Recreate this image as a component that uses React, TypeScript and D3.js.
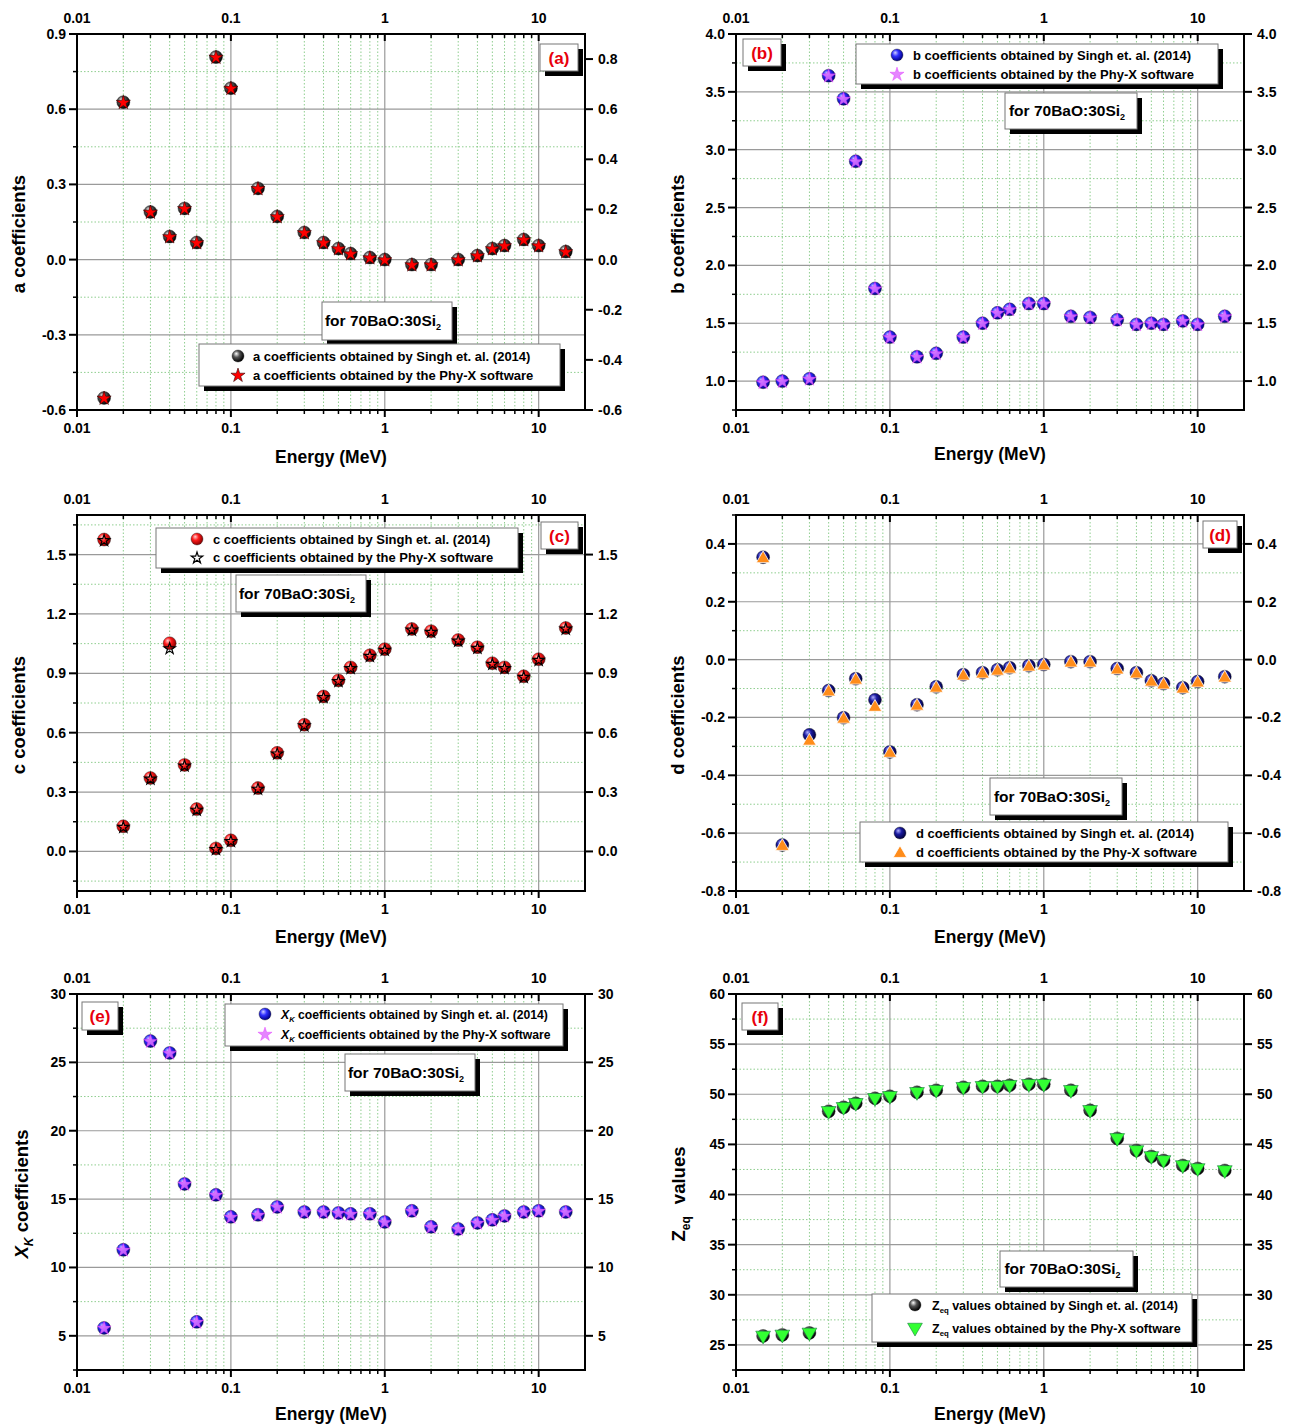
import React from 'react';
import * as d3 from 'd3';

const energies = [0.015, 0.02, 0.03, 0.04, 0.05, 0.06, 0.08, 0.1, 0.15, 0.2, 0.3, 0.4, 0.5, 0.6, 0.8, 1, 1.5, 2, 3, 4, 5, 6, 8, 10, 15];

const aSingh = [-0.552, 0.628, 0.19, 0.092, 0.204, 0.068, 0.808, 0.684, 0.284, 0.172, 0.108, 0.068, 0.044, 0.024, 0.008, 0.0, -0.02, -0.02, 0.0, 0.016, 0.044, 0.056, 0.08, 0.056, 0.032];
const aPhyX = [-0.552, 0.628, 0.19, 0.092, 0.204, 0.068, 0.808, 0.684, 0.284, 0.172, 0.108, 0.068, 0.044, 0.024, 0.008, 0.0, -0.02, -0.02, 0.0, 0.016, 0.044, 0.056, 0.08, 0.056, 0.032];

const bSingh = [0.99, 1.0, 1.02, 3.64, 3.44, 2.9, 1.8, 1.38, 1.21, 1.24, 1.38, 1.5, 1.59, 1.62, 1.67, 1.67, 1.56, 1.55, 1.53, 1.49, 1.5, 1.49, 1.52, 1.49, 1.56];
const bPhyX = [0.99, 1.0, 1.02, 3.64, 3.44, 2.9, 1.8, 1.38, 1.21, 1.24, 1.38, 1.5, 1.59, 1.62, 1.67, 1.67, 1.56, 1.55, 1.53, 1.49, 1.5, 1.49, 1.52, 1.49, 1.56];

const cSingh = [1.576, 0.127, 0.371, 1.052, 0.437, 0.214, 0.015, 0.056, 0.32, 0.498, 0.64, 0.783, 0.864, 0.93, 0.991, 1.022, 1.124, 1.113, 1.068, 1.032, 0.951, 0.93, 0.885, 0.971, 1.129];
const cPhyX = [1.576, 0.127, 0.371, 1.03, 0.437, 0.214, 0.015, 0.056, 0.32, 0.498, 0.64, 0.783, 0.864, 0.93, 0.991, 1.022, 1.124, 1.113, 1.068, 1.032, 0.951, 0.93, 0.885, 0.971, 1.129];

const dSingh = [0.354, -0.641, -0.26, -0.107, -0.201, -0.066, -0.139, -0.319, -0.156, -0.094, -0.052, -0.045, -0.035, -0.028, -0.021, -0.017, -0.007, -0.007, -0.031, -0.045, -0.073, -0.083, -0.097, -0.076, -0.059];
const dPhyX = [0.354, -0.641, -0.277, -0.107, -0.201, -0.066, -0.16, -0.319, -0.156, -0.094, -0.052, -0.045, -0.035, -0.028, -0.021, -0.017, -0.007, -0.007, -0.031, -0.045, -0.073, -0.083, -0.097, -0.076, -0.059];

const xkSingh = [5.58, 11.29, 26.56, 25.69, 16.11, 6.02, 15.31, 13.7, 13.85, 14.43, 14.06, 14.06, 13.99, 13.92, 13.92, 13.33, 14.14, 12.97, 12.82, 13.26, 13.48, 13.77, 14.06, 14.14, 14.06];
const xkPhyX = [5.58, 11.29, 26.56, 25.69, 16.11, 6.02, 15.31, 13.7, 13.85, 14.43, 14.06, 14.06, 13.99, 13.92, 13.92, 13.33, 14.14, 12.97, 12.82, 13.26, 13.48, 13.77, 14.06, 14.14, 14.06];

const zeqSingh = [25.9, 26.0, 26.2, 48.3, 48.7, 49.1, 49.6, 49.8, 50.2, 50.4, 50.7, 50.8, 50.8, 50.9, 51.0, 51.0, 50.4, 48.4, 45.6, 44.4, 43.8, 43.4, 42.9, 42.6, 42.4];
const zeqPhyX = [25.9, 26.0, 26.2, 48.3, 48.7, 49.1, 49.6, 49.8, 50.2, 50.4, 50.7, 50.8, 50.8, 50.9, 51.0, 51.0, 50.4, 48.4, 45.6, 44.4, 43.8, 43.4, 42.9, 42.6, 42.4];

const xTicks = [0.01, 0.1, 1, 10];
const xDomain = [0.01, 20];

const aLeftTicks = [-0.6, -0.3, 0, 0.3, 0.6, 0.9];
const aRightTicks = [-0.6, -0.4, -0.2, 0, 0.2, 0.4, 0.6, 0.8];
const bTicks = [1.0, 1.5, 2.0, 2.5, 3.0, 3.5, 4.0];
const cTicks = [0, 0.3, 0.6, 0.9, 1.2, 1.5];
const dTicks = [-0.8, -0.6, -0.4, -0.2, 0, 0.2, 0.4];
const eTicks = [5, 10, 15, 20, 25, 30];
const fTicks = [25, 30, 35, 40, 45, 50, 55, 60];

const FONT = "Arial, 'Liberation Sans', sans-serif";
const PW = 508;
const PH = 376;
const LEG = 13;

const sphereColors = { black: ['#ffffff', '#555555', '#000000'], blue: ['#d0d0ff', '#3030ff', '#00008a'], red: ['#ffd0d0', '#ff1a1a', '#8a0000'], navy: ['#b0b0ff', '#1a1aa0', '#000040'] };

function Sphere({ x, y, color, r = 6.5 }) {
  return <circle cx={x} cy={y} r={r} fill={`url(#sph-${color})`} stroke="#222" strokeWidth={0.4} />;
}

const starPath = d3.symbol(d3.symbolStar, 62)();
const starSmall = d3.symbol(d3.symbolStar, 40)();
const triPath = d3.symbol(d3.symbolTriangle, 80)();
const triBig = d3.symbol(d3.symbolTriangle, 95)();

function Over({ x, y, kind }) {
  if (kind === 'redStar') return <path d={starPath} transform={`translate(${x},${y + 0.5})`} fill="#ff0000" stroke="#300" strokeWidth={0.6} />;
  if (kind === 'magStar') return <path d={starPath} transform={`translate(${x},${y + 0.5})`} fill="#e070ff" fillOpacity={0.85} stroke="#d0f" strokeWidth={0.3} />;
  if (kind === 'blackStar') return <path d={starSmall} transform={`translate(${x},${y + 1})`} fill="none" stroke="#000" strokeWidth={1.2} />;
  if (kind === 'orangeTri') return <path d={triPath} transform={`translate(${x},${y + 1.5})`} fill="#ff8c1a" stroke="#fff" strokeWidth={0.8} />;
  if (kind === 'greenTri') return <path d={triBig} transform={`translate(${x},${y - 0.5}) rotate(180)`} fill="#33ff33" stroke="#063" strokeWidth={0.5} />;
  return null;
}

function ShadowBox({ x, y, w, h, off = 5 }) {
  return (
    <g>
      <rect x={x + off} y={y + off} width={w} height={h} fill="#000" />
      <rect x={x} y={y} width={w} height={h} fill="#fff" stroke="#777" strokeWidth={1} />
    </g>
  );
}

function SubText({ x, y, base, sub, rest, size, italic = false }) {
  return (
    <text x={x} y={y} fontSize={size} fontWeight="bold" fontFamily={FONT} fill="#000">
      <tspan fontStyle={italic ? 'italic' : 'normal'}>{base}</tspan>
      <tspan fontSize={size * 0.62} dy={size * 0.3} fontStyle={italic ? 'italic' : 'normal'}>{sub}</tspan>
      <tspan dy={-size * 0.3}>{rest}</tspan>
    </text>
  );
}

function Panel({ cfg }) {
  const { x0, y0, yDomain, leftTicks, rightTicks, minorStep, fmt, singh, phyx, sphere, over, letterBox, forBox, legend, yTitle, titleDy } = cfg;
  const x = d3.scaleLog().domain(xDomain).range([x0, x0 + PW]);
  const y = d3.scaleLinear().domain(yDomain).range([y0 + PH, y0]);
  const minorX = [];
  [0.01, 0.1, 1, 10].forEach((d) => { for (let k = 2; k <= 9; k++) { const v = d * k; if (v < 20) minorX.push(v); } });
  const minorY = [];
  const n0 = Math.ceil(yDomain[0] / minorStep - 1e-6);
  const n1 = Math.floor(yDomain[1] / minorStep + 1e-6);
  for (let n = n0; n <= n1; n++) {
    const v = n * minorStep;
    if (!leftTicks.some((t) => Math.abs(t - v) < 1e-6)) minorY.push(v);
  }
  const xr = x0 + PW;
  const yb = y0 + PH;
  const tickFont = { fontSize: 14, fontWeight: 'bold', fontFamily: FONT, fill: '#000' };
  return (
    <g>
      {minorX.map((v, i) => <line key={'mx' + i} x1={x(v)} x2={x(v)} y1={y0} y2={yb} stroke="#8fce8f" strokeWidth={1} strokeDasharray="1.5,2" />)}
      {minorY.map((v, i) => <line key={'my' + i} x1={x0} x2={xr} y1={y(v)} y2={y(v)} stroke="#8fce8f" strokeWidth={1} strokeDasharray="1.5,2" />)}
      {xTicks.filter((v) => v > 0.01).map((v, i) => <line key={'gx' + i} x1={x(v)} x2={x(v)} y1={y0} y2={yb} stroke="#9a9a9a" strokeWidth={1.2} />)}
      {leftTicks.map((v, i) => <line key={'gy' + i} x1={x0} x2={xr} y1={y(v)} y2={y(v)} stroke="#9a9a9a" strokeWidth={1.2} />)}
      <rect x={x0} y={y0} width={PW} height={PH} fill="none" stroke="#000" strokeWidth={2} />
      {xTicks.map((v, i) => (
        <g key={'xt' + i}>
          <line x1={x(v)} x2={x(v)} y1={yb} y2={yb + 7} stroke="#000" strokeWidth={2} />
          <line x1={x(v)} x2={x(v)} y1={y0} y2={y0 + 7} stroke="#000" strokeWidth={2} />
          <text x={x(v)} y={yb + 23} textAnchor="middle" {...tickFont}>{String(v)}</text>
          <text x={x(v)} y={y0 - 11} textAnchor="middle" {...tickFont}>{String(v)}</text>
        </g>
      ))}
      {minorX.map((v, i) => (
        <g key={'xm' + i}>
          <line x1={x(v)} x2={x(v)} y1={yb} y2={yb + 4} stroke="#000" strokeWidth={1.5} />
          <line x1={x(v)} x2={x(v)} y1={y0} y2={y0 + 4} stroke="#000" strokeWidth={1.5} />
        </g>
      ))}
      {leftTicks.map((v, i) => (
        <g key={'yl' + i}>
          <line x1={x0 - 8} x2={x0} y1={y(v)} y2={y(v)} stroke="#000" strokeWidth={2} />
          <text x={x0 - 11} y={y(v) + 5} textAnchor="end" {...tickFont}>{fmt(v)}</text>
        </g>
      ))}
      {minorY.map((v, i) => <line key={'ylm' + i} x1={x0 - 4} x2={x0} y1={y(v)} y2={y(v)} stroke="#000" strokeWidth={1.5} />)}
      {rightTicks.map((v, i) => (
        <g key={'yr' + i}>
          <line x1={xr} x2={xr + 8} y1={y(v)} y2={y(v)} stroke="#000" strokeWidth={2} />
          <text x={xr + 13} y={y(v) + 5} textAnchor="start" {...tickFont}>{fmt(v)}</text>
        </g>
      ))}
      <text x={x0 + PW / 2} y={yb + titleDy} textAnchor="middle" fontSize={17.5} fontWeight="bold" fontFamily={FONT}>Energy (MeV)</text>
      <g transform={`translate(${x0 - 52},${y0 + PH / 2 + 12}) rotate(-90)`}>{yTitle}</g>
      <ShadowBox {...forBox} />
      <text x={forBox.x + forBox.w / 2 - 4} y={forBox.y + forBox.h / 2 + 5} textAnchor="middle" fontSize={15.5} fontWeight="bold" fontFamily={FONT}>
        for 70BaO:30Si<tspan fontSize={9} dy={4}>2</tspan>
      </text>
      <ShadowBox {...letterBox} />
      <text x={letterBox.x + letterBox.w / 2} y={letterBox.y + letterBox.h / 2 + 6} textAnchor="middle" fontSize={17} fontWeight="bold" fontFamily={FONT} fill="#e8000b">{cfg.letter}</text>
      <ShadowBox x={legend.x} y={legend.y} w={legend.w} h={legend.h} />
      <Sphere x={legend.mx} y={legend.r1} color={sphere} r={6} />
      <Over x={legend.mx} y={legend.r2} kind={over} />
      {legend.t1}
      {legend.t2}
      {energies.map((e, i) => <Sphere key={'s' + i} x={x(e)} y={y(singh[i])} color={sphere} />)}
      {energies.map((e, i) => <Over key={'o' + i} x={x(e)} y={y(phyx[i])} kind={over} />)}
    </g>
  );
}

const f1 = (v) => v.toFixed(1);
const f0 = (v) => String(Math.round(v));

function legText(x, y, s) {
  return <text x={x} y={y + 4.5} fontSize={LEG} fontWeight="bold" fontFamily={FONT}>{s}</text>;
}

function yT(s) {
  return <text x={0} y={0} textAnchor="middle" fontSize={18.5} fontWeight="bold" fontFamily={FONT}>{s}</text>;
}

const panels = [
  {
    letter: '(a)', x0: 77, y0: 34, yDomain: [-0.6, 0.9], leftTicks: aLeftTicks, rightTicks: aRightTicks, minorStep: 0.15, fmt: f1,
    singh: aSingh, phyx: aPhyX, sphere: 'black', over: 'redStar', titleDy: 53,
    letterBox: { x: 540, y: 44, w: 38, h: 27 }, forBox: { x: 322, y: 302, w: 130, h: 38 },
    legend: { x: 199, y: 344, w: 361, h: 42, mx: 238, r1: 356, r2: 375, t1: legText(253, 356, 'a coefficients obtained by Singh et. al. (2014)'), t2: legText(253, 375, 'a coefficients obtained by the Phy-X software') },
    yTitle: yT('a coefficients'),
  },
  {
    letter: '(b)', x0: 736, y0: 34, yDomain: [0.75, 4.0], leftTicks: bTicks, rightTicks: bTicks, minorStep: 0.25, fmt: f1,
    singh: bSingh, phyx: bPhyX, sphere: 'blue', over: 'magStar', titleDy: 50,
    letterBox: { x: 743, y: 39, w: 38, h: 27 }, forBox: { x: 1005, y: 93, w: 132, h: 36 },
    legend: { x: 856, y: 44, w: 362, h: 40, mx: 897, r1: 55, r2: 74, t1: legText(913, 55, 'b coefficients obtained by Singh et. al. (2014)'), t2: legText(913, 74, 'b coefficients obtained by the Phy-X software') },
    yTitle: yT('b coefficients'),
  },
  {
    letter: '(c)', x0: 77, y0: 515, yDomain: [-0.2, 1.7], leftTicks: cTicks, rightTicks: cTicks, minorStep: 0.15, fmt: f1,
    singh: cSingh, phyx: cPhyX, sphere: 'red', over: 'blackStar', titleDy: 52,
    letterBox: { x: 541, y: 522, w: 37, h: 27 }, forBox: { x: 236, y: 575, w: 130, h: 37 },
    legend: { x: 156, y: 528, w: 362, h: 40, mx: 197, r1: 539, r2: 557, t1: legText(213, 539, 'c coefficients obtained by Singh et. al. (2014)'), t2: legText(213, 557, 'c coefficients obtained by the Phy-X software') },
    yTitle: yT('c coefficients'),
  },
  {
    letter: '(d)', x0: 736, y0: 515, yDomain: [-0.8, 0.5], leftTicks: dTicks, rightTicks: dTicks, minorStep: 0.1, fmt: f1,
    singh: dSingh, phyx: dPhyX, sphere: 'navy', over: 'orangeTri', titleDy: 52,
    letterBox: { x: 1203, y: 521, w: 34, h: 27 }, forBox: { x: 990, y: 778, w: 132, h: 37 },
    legend: { x: 860, y: 822, w: 368, h: 40, mx: 900, r1: 833, r2: 852, t1: legText(916, 833, 'd coefficients obtained by Singh et. al. (2014)'), t2: legText(916, 852, 'd coefficients obtained by the Phy-X software') },
    yTitle: yT('d coefficients'),
  },
  {
    letter: '(e)', x0: 77, y0: 994, yDomain: [2.5, 30], leftTicks: eTicks, rightTicks: eTicks, minorStep: 2.5, fmt: f0,
    singh: xkSingh, phyx: xkPhyX, sphere: 'blue', over: 'magStar', titleDy: 50,
    letterBox: { x: 82, y: 1002, w: 36, h: 28 }, forBox: { x: 345, y: 1054, w: 130, h: 37 },
    legend: {
      x: 225, y: 1004, w: 338, h: 42, mx: 265, r1: 1014, r2: 1034,
      t1: <SubText x={281} y={1018.5} base="X" sub="K" rest=" coefficients obtained by Singh et. al. (2014)" size={12.2} italic />,
      t2: <SubText x={281} y={1038.5} base="X" sub="K" rest=" coefficients obtained by the Phy-X software" size={12.2} italic />,
    },
    yTitle: (
      <text x={0} y={3} textAnchor="middle" fontSize={18.5} fontWeight="bold" fontFamily={FONT}>
        <tspan fontStyle="italic">X</tspan>
        <tspan fontStyle="italic" fontSize={12} dy={5}>K</tspan>
        <tspan dy={-5}> coefficients</tspan>
      </text>
    ),
  },
  {
    letter: '(f)', x0: 736, y0: 994, yDomain: [22.5, 60], leftTicks: fTicks, rightTicks: fTicks, minorStep: 2.5, fmt: f0,
    singh: zeqSingh, phyx: zeqPhyX, sphere: 'black', over: 'greenTri', titleDy: 50,
    letterBox: { x: 742, y: 1003, w: 36, h: 27 }, forBox: { x: 1000, y: 1251, w: 133, h: 36 },
    legend: {
      x: 872, y: 1294, w: 320, h: 48, mx: 915, r1: 1305, r2: 1328,
      t1: <SubText x={932} y={1309.5} base="Z" sub="eq" rest=" values obtained by Singh et. al. (2014)" size={12.5} />,
      t2: <SubText x={932} y={1332.5} base="Z" sub="eq" rest=" values obtained by the Phy-X software" size={12.5} />,
    },
    yTitle: (
      <text x={0} y={1} textAnchor="middle" fontSize={18.5} fontWeight="bold" fontFamily={FONT}>
        <tspan>Z</tspan>
        <tspan fontSize={12} dy={5}>eq</tspan>
        <tspan dy={-5} dx={12}>values</tspan>
      </text>
    ),
  },
];

export default function App() {
  return (
    <svg width={1291} height={1425} style={{ position: 'absolute', left: 0, top: 0, background: '#fff' }}>
      <defs>
        {Object.entries(sphereColors).map(([k, c]) => (
          <radialGradient key={k} id={`sph-${k}`} cx="0.4" cy="0.4" r="0.6" fx="0.35" fy="0.3">
            <stop offset="0" stopColor={c[0]} />
            <stop offset="0.45" stopColor={c[1]} />
            <stop offset="1" stopColor={c[2]} />
          </radialGradient>
        ))}
      </defs>
      <rect x={0} y={0} width={1291} height={1425} fill="#fff" />
      {panels.map((p, i) => <Panel key={i} cfg={p} />)}
    </svg>
  );
}
